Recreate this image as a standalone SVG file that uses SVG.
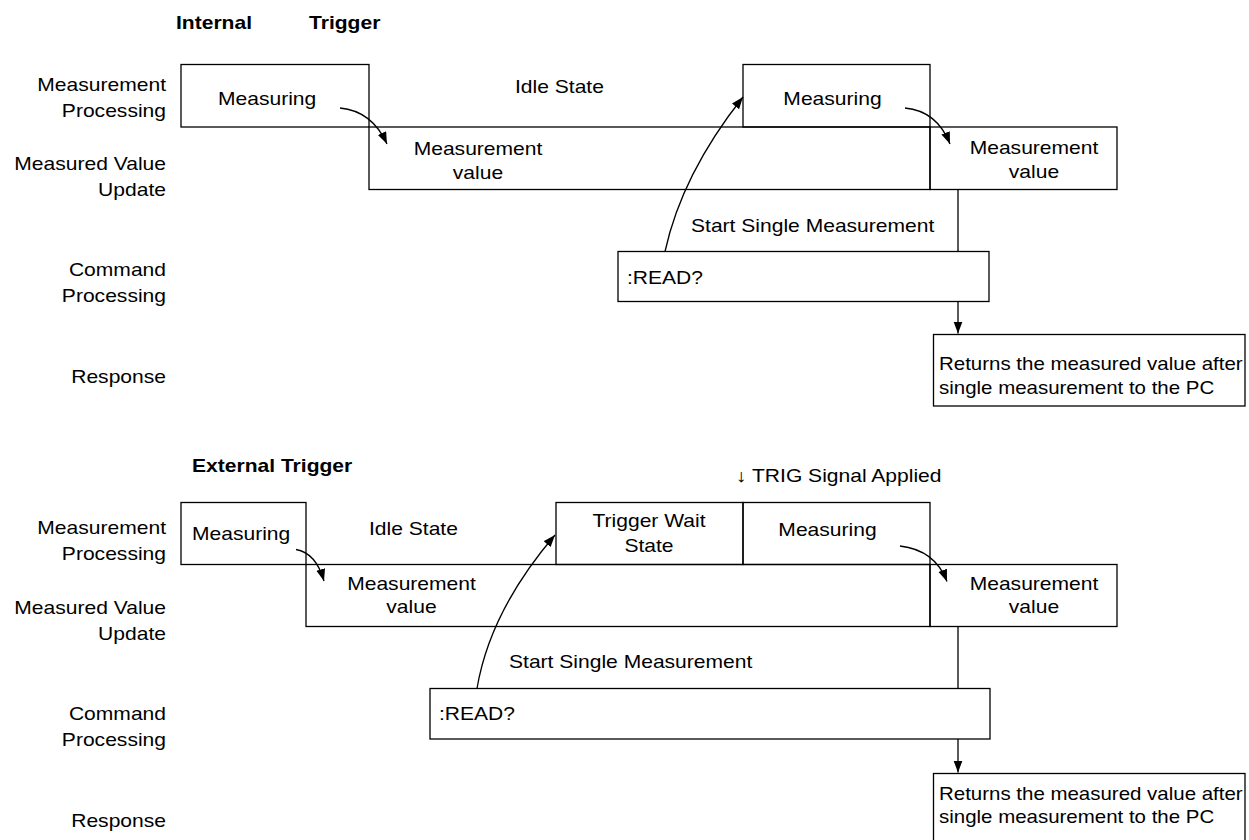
<svg xmlns="http://www.w3.org/2000/svg" width="1249" height="840" viewBox="0 0 1249 840">
<style>
.t{font-family:"Liberation Sans",Arial,sans-serif;font-size:18px;fill:#000}
.r{font-size:17.5px}
.b{font-weight:bold}
.box{fill:none;stroke:#000;stroke-width:1.3}
.c{fill:none;stroke:#000;stroke-width:1.3}
</style>
<defs>
<marker id="ah" markerUnits="userSpaceOnUse" markerWidth="13" markerHeight="10" refX="12" refY="4.5" orient="auto">
<path d="M0,0 L12,4.5 L0,9 z" fill="#000"/>
</marker>
</defs>
<rect width="1249" height="840" fill="#fff"/>

<g id="titles">
<text class="t b" transform="matrix(1.17 0 0 1 176 29)">Internal</text>
<text class="t b" transform="matrix(1.17 0 0 1 309 29)">Trigger</text>
<text class="t b" transform="matrix(1.17 0 0 1 192 472)">External Trigger</text>
<text class="t" transform="matrix(1.17 0 0 1 736 482)">↓ TRIG Signal Applied</text>
</g>

<g id="labels-top" text-anchor="end">
<text class="t" transform="matrix(1.17 0 0 1 166 91)"><tspan x="0">Measurement</tspan><tspan x="0" dy="26">Processing</tspan></text>
<text class="t" transform="matrix(1.17 0 0 1 166 170)"><tspan x="0">Measured Value</tspan><tspan x="0" dy="26">Update</tspan></text>
<text class="t" transform="matrix(1.17 0 0 1 166 276)"><tspan x="0">Command</tspan><tspan x="0" dy="26">Processing</tspan></text>
<text class="t" transform="matrix(1.17 0 0 1 166 383)">Response</text>
</g>

<g id="labels-bottom" text-anchor="end">
<text class="t" transform="matrix(1.17 0 0 1 166 534)"><tspan x="0">Measurement</tspan><tspan x="0" dy="26">Processing</tspan></text>
<text class="t" transform="matrix(1.17 0 0 1 166 614)"><tspan x="0">Measured Value</tspan><tspan x="0" dy="26">Update</tspan></text>
<text class="t" transform="matrix(1.17 0 0 1 166 720)"><tspan x="0">Command</tspan><tspan x="0" dy="26">Processing</tspan></text>
<text class="t" transform="matrix(1.17 0 0 1 166 827)">Response</text>
</g>

<!-- Internal trigger section -->
<g id="int-measuring1">
<rect class="box" x="181" y="64.5" width="188" height="62.5"/>
<text class="t" transform="matrix(1.17 0 0 1 218 105)">Measuring</text>
</g>
<g id="int-idle">
<text class="t" transform="matrix(1.17 0 0 1 515 93)">Idle State</text>
</g>
<g id="int-measuring2">
<rect class="box" x="743" y="64.5" width="187" height="62.5"/>
<text class="t" text-anchor="middle" transform="matrix(1.17 0 0 1 832.5 105)">Measuring</text>
</g>
<g id="int-value1">
<rect class="box" x="369" y="127" width="561" height="62.5"/>
<text class="t" text-anchor="middle" transform="matrix(1.17 0 0 1 478 155)"><tspan x="0">Measurement</tspan><tspan x="0" dy="24">value</tspan></text>
</g>
<g id="int-value2">
<rect class="box" x="930" y="127" width="187" height="62.5"/>
<text class="t" text-anchor="middle" transform="matrix(1.17 0 0 1 1034 154)"><tspan x="0">Measurement</tspan><tspan x="0" dy="24">value</tspan></text>
</g>
<g id="int-start">
<text class="t" transform="matrix(1.17 0 0 1 691 232)">Start Single Measurement</text>
</g>
<g id="int-read">
<rect class="box" x="618" y="251.5" width="371" height="50"/>
<text class="t" transform="matrix(1.17 0 0 1 627 284)">:READ?</text>
</g>
<g id="int-response">
<rect class="box" x="933.5" y="334.5" width="311.5" height="71.5"/>
<text class="t r" transform="matrix(1.17 0 0 1 939 370)"><tspan x="0">Returns the measured value after</tspan><tspan x="0" dy="24">single measurement to the PC</tspan></text>
</g>

<!-- External trigger section -->
<g id="ext-measuring1">
<rect class="box" x="181" y="502.5" width="125" height="62"/>
<text class="t" transform="matrix(1.17 0 0 1 192 540)">Measuring</text>
</g>
<g id="ext-idle">
<text class="t" transform="matrix(1.17 0 0 1 369 534.5)">Idle State</text>
</g>
<g id="ext-trigwait">
<rect class="box" x="556" y="502.5" width="187" height="62"/>
<text class="t" text-anchor="middle" transform="matrix(1.17 0 0 1 649 527)"><tspan x="0">Trigger Wait</tspan><tspan x="0" dy="25">State</tspan></text>
</g>
<g id="ext-measuring2">
<rect class="box" x="743" y="502.5" width="187" height="62"/>
<text class="t" text-anchor="middle" transform="matrix(1.17 0 0 1 827.5 536)">Measuring</text>
</g>
<g id="ext-value1">
<rect class="box" x="306" y="564.5" width="624" height="62"/>
<text class="t" text-anchor="middle" transform="matrix(1.17 0 0 1 411.5 589.5)"><tspan x="0">Measurement</tspan><tspan x="0" dy="24">value</tspan></text>
</g>
<g id="ext-value2">
<rect class="box" x="930" y="564.5" width="187" height="62"/>
<text class="t" text-anchor="middle" transform="matrix(1.17 0 0 1 1034 589.5)"><tspan x="0">Measurement</tspan><tspan x="0" dy="24">value</tspan></text>
</g>
<g id="ext-start">
<text class="t" transform="matrix(1.17 0 0 1 509 668)">Start Single Measurement</text>
</g>
<g id="ext-read">
<rect class="box" x="430" y="688.5" width="560" height="50.5"/>
<text class="t" transform="matrix(1.17 0 0 1 439 720)">:READ?</text>
</g>
<g id="ext-response">
<rect class="box" x="933.5" y="773.5" width="311.5" height="80"/>
<text class="t r" transform="matrix(1.17 0 0 1 939 800)"><tspan x="0">Returns the measured value after</tspan><tspan x="0" dy="23">single measurement to the PC</tspan></text>
</g>

<g id="connectors">
<path class="c" d="M340,108 Q372,111 387,144" marker-end="url(#ah)"/>
<path class="c" d="M905,108 Q937,111 950,144" marker-end="url(#ah)"/>
<path class="c" d="M665,251.5 Q682,174 743,97" marker-end="url(#ah)"/>
<path class="c" d="M958,189.5 V251.5"/>
<path class="c" d="M958,301.5 V333.5" marker-end="url(#ah)"/>
<path class="c" d="M296,549.5 Q316,553 324,581" marker-end="url(#ah)"/>
<path class="c" d="M900,546 Q935,550 947,581.5" marker-end="url(#ah)"/>
<path class="c" d="M477,688.5 Q490,611 555,535" marker-end="url(#ah)"/>
<path class="c" d="M958,626.5 V688.5"/>
<path class="c" d="M958,739 V772.5" marker-end="url(#ah)"/>
</g>
</svg>
